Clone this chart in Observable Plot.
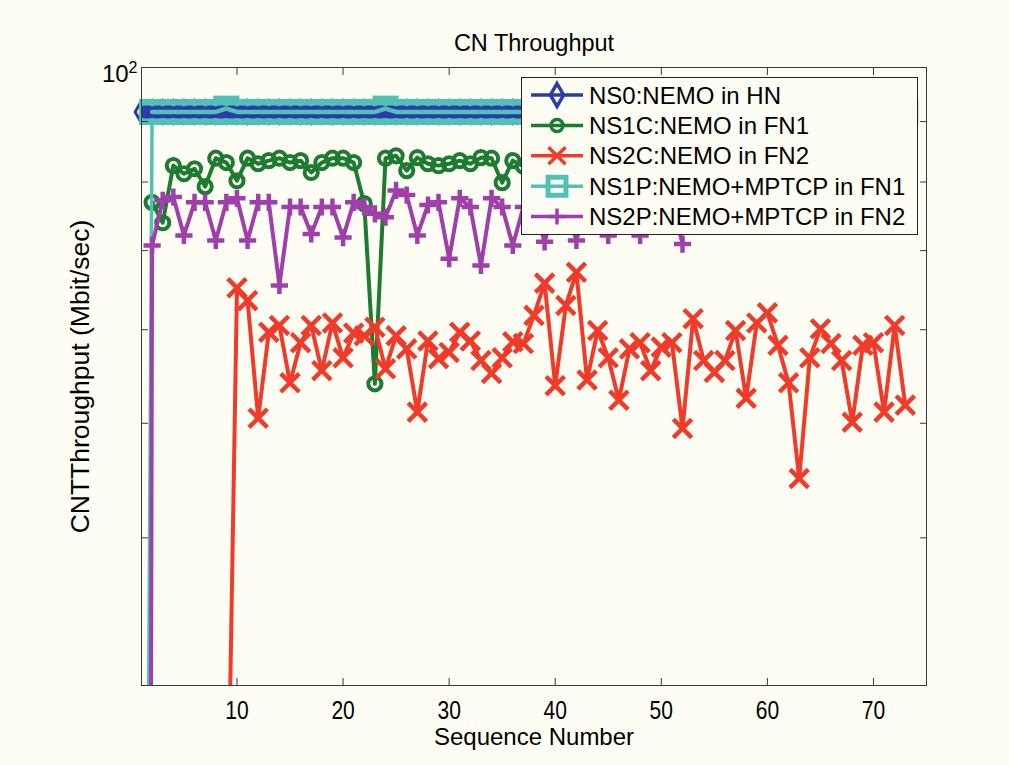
<!DOCTYPE html>
<html><head><meta charset="utf-8">
<script src="https://cdn.jsdelivr.net/npm/d3@7"></script>
<script src="https://cdn.jsdelivr.net/npm/@observablehq/plot@0.6"></script>
<style>
html,body{margin:0;padding:0;background:#FEFDF3;}
#wrap{position:relative;width:1009px;height:765px;overflow:hidden;background:#FEFDF3;}
#legend{position:absolute;left:521px;top:77px;width:397px;height:158px;box-sizing:border-box;border:1px solid #222;background:#FEFDF3;}
#legend svg{display:block}
</style></head><body><div id="wrap"></div>
<script>
// ---- data ----
const seq = [1,2,3,4,5,6,7,8,9,10,11,12,13,14,15,16,17,18,19,20,21,22,23,24,25,26,27,28,29,30,31,32,33,34,35,36,37,38,39,40,41,42,43,44,45,46,47,48,49,50,51,52,53,54,55,56,57,58,59,60,61,62,63,64,65,66,67,68,69,70,71,72,73];
const xTicks = [10,20,30,40,50,60,70];
const yTicks = [40,50,60,70,80,90,100];
const seriesNames = ["NS0:NEMO in HN","NS1C:NEMO in FN1","NS2C:NEMO in FN2","NS1P:NEMO+MPTCP in FN1","NS2P:NEMO+MPTCP in FN2"];
const ns0 = [91.7,91.7,91.7,91.7,91.7,91.7,91.7,91.7,91.7,91.7,91.7,91.7,91.7,91.7,91.7,91.7,91.7,91.7,91.7,91.7,91.7,91.7,91.7,91.7,91.7,91.7,91.7,91.7,91.7,91.7,91.7,91.7,91.7,91.7,91.7,91.7,91.7,91.7,91.7,91.7,91.7,91.7,91.7,91.7,91.7,91.7,91.7,91.7,91.7,91.7,91.7,91.7,91.7,91.7,91.7,91.7,91.7,91.7,91.7,91.7,91.7,91.7,91.7,91.7,91.7,91.7,91.7,91.7,91.7,91.7,91.7,91.7,91.7];
const ns1c = [null,76.9,73.9,82.6,81.3,82.1,79.3,83.8,83.1,80.2,83.8,82.9,83.4,83.8,83.1,83.4,81.5,83.1,83.8,83.8,83.1,76.7,54.0,83.8,84.2,81.8,83.9,82.9,82.6,82.9,83.4,82.9,83.9,83.8,79.9,83.4,82.5,83.4,82.9,83.8,80.5,83.4,83.1,82.6,83.8,83.4,79.9,83.1,83.8,82.9,83.4,81.8,83.8,83.1,82.6,83.4,83.8,80.2,83.1,83.4,82.9,83.8,83.1,81.5,83.4,83.8,82.9,83.1,79.9,83.4,83.8,82.6,83.1];
const ns2c = [null,null,null,null,null,null,null,null,19,65.1,63.5,50.5,59.7,60.5,54.1,58.5,60.5,55.4,60.8,56.8,59.6,59.3,60.3,55.6,59.3,57.8,51.1,58.7,56.7,57.4,59.7,58.7,56.5,55.1,56.8,58.6,58.4,61.7,65.7,53.8,62.9,67.1,54.4,59.9,56.8,52.3,57.8,58.5,55.4,58.0,58.5,49.5,61.3,56.5,55.2,56.5,59.9,52.5,60.8,62.0,58.2,54.1,44.9,56.8,60.1,58.4,56.5,50.1,58.2,58.5,51.1,60.5,51.8];
const ns1p = [2.8,91.7,91.7,91.7,91.7,91.7,91.7,91.7,92.3,91.7,91.7,91.7,91.7,91.7,91.7,91.7,91.7,91.7,91.7,91.7,91.7,91.7,91.7,92.3,91.7,91.7,91.7,91.7,91.7,91.7,91.7,91.7,91.7,91.7,91.7,91.7,91.7,91.7,91.7,91.7,91.7,91.7,91.7,91.7,91.7,91.7,91.7,91.7,91.7,91.7,91.7,91.7,91.7,91.7,91.7,91.7,91.7,91.7,91.7,91.7,91.7,91.7,91.7,91.7,91.7,91.7,91.7,91.7,91.7,91.7,91.7,91.7,91.7];
const ns2p = [0.01,70.7,77.2,77.7,72.1,76.9,76.9,71.4,76.9,77.5,71.4,76.9,76.9,65.4,76.2,76.2,72.3,76.2,76.2,71.8,76.9,76.2,75.2,74.7,78.7,78.0,72.1,76.5,76.9,68.9,77.5,76.2,68.0,77.5,76.2,70.7,76.2,76.5,71.2,76.9,76.5,71.4,76.9,76.2,72.1,76.9,76.5,72.1,76.9,76.2,77.2,70.9];

const C = {blue:"#2B3BA8", green:"#1E7B32", red:"#F03B2B", cyan:"#52C0B7", purple:"#9F3FA9"};
const FONT = "'Liberation Sans', Arial, Helvetica, sans-serif";

function pts(vals){ return seq.map((x,i)=>({x, y: vals[i]})).filter(d => d.y != null && d.y !== undefined); }
const inDom = d => d.y >= 30 && d.y <= 100;

const P0 = pts(ns0), P1 = pts(ns1c), P2 = pts(ns2c), P3 = pts(ns1p), P4 = pts(ns2p);

const chart = Plot.plot({
  width: 1009, height: 765,
  marginLeft: 141, marginRight: 83, marginTop: 67, marginBottom: 80,
  style: {background: "transparent", fontFamily: FONT, color: "#000"},
  x: {domain: [1, 75], label: null},
  y: {type: "log", domain: [30, 100], label: null},
  marks: [
    // NS0
    Plot.line(P0, {x: "x", y: "y", stroke: C.blue, strokeWidth: 3.5, clip: true}),
    Plot.dot(P0.filter(inDom), {x: "x", y: "y", symbol: "diamond", r: 6.7, stroke: C.blue, strokeWidth: 3, fill: "none"}),
    // NS1C
    Plot.line(P1, {x: "x", y: "y", stroke: C.green, strokeWidth: 4, clip: true}),
    Plot.dot(P1.filter(inDom), {x: "x", y: "y", symbol: "circle", r: 6.6, stroke: C.green, strokeWidth: 4, fill: "none"}),
    // NS2C
    Plot.line(P2, {x: "x", y: "y", stroke: C.red, strokeWidth: 4, clip: true}),
    Plot.dot(P2.filter(inDom), {x: "x", y: "y", symbol: "times", r: 8.4, stroke: C.red, strokeWidth: 4.5, fill: "none"}),
    // NS1P
    Plot.line(P3, {x: "x", y: "y", stroke: C.cyan, strokeWidth: 3.5, clip: true}),
    Plot.dot(P3.filter(inDom), {x: "x", y: "y", symbol: "square", r: 14.7, fill: C.cyan, stroke: "none"}),
    Plot.line(P0, {x: "x", y: "y", stroke: C.blue, strokeWidth: 13, strokeDasharray: "3.6,7.01", strokeDashoffset: -3.5, clip: true}),
    Plot.line(P3.filter(inDom), {x: "x", y: "y", stroke: C.cyan, strokeWidth: 4.5, clip: true}),
    // NS2P
    Plot.line(P4, {x: "x", y: "y", stroke: C.purple, strokeWidth: 4, clip: true}),
    Plot.dot(P4.filter(inDom), {x: "x", y: "y", symbol: "plus", r: 5.6, stroke: C.purple, strokeWidth: 4.5, fill: "none"}),
    // axes
    Plot.axisX({anchor: "bottom", ticks: xTicks, tickSize: -7, tickPadding: 22, fontSize: 21, label: null, stroke: "#3a3a3a"}),
    Plot.axisX({anchor: "top", ticks: xTicks, tickSize: -7, tickFormat: () => "", label: null, stroke: "#3a3a3a"}),
    Plot.axisY({anchor: "left", ticks: yTicks, tickSize: -7, tickPadding: 11, fontSize: 24, label: null, stroke: "#3a3a3a",
      tickFormat: d => d === 100 ? "10²" : ""}),
    Plot.axisY({anchor: "right", ticks: yTicks, tickSize: -7, tickFormat: () => "", label: null, stroke: "#3a3a3a"}),
    Plot.frame({stroke: "#3a3a3a", strokeWidth: 1}),
    // titles
    Plot.text(["CN Throughput"], {frameAnchor: "top", dy: -24, lineAnchor: "middle", textAnchor: "middle", fontSize: 23.5, fill: "#000"}),
    Plot.text(["Sequence Number"], {frameAnchor: "bottom", dy: 52, lineAnchor: "middle", textAnchor: "middle", fontSize: 24, fill: "#000"}),
    Plot.text(["CNTThroughput (Mbit/sec)"], {frameAnchor: "left", dx: -61, rotate: -90, lineAnchor: "middle", textAnchor: "middle", fontSize: 26.5, fill: "#000"})
  ]
});

const wrap = document.getElementById("wrap");
wrap.appendChild(chart);

// stretch x tick labels vertically like the reference's glyphs
d3.select(chart).selectAll('g[aria-label="x-axis tick label"] text').each(function() {
  if (!this.textContent) return;
  const t = this.getAttribute("transform") || "";
  this.setAttribute("transform", t + " scale(1,1.25)");
});
// 10^2 with a raised superscript
d3.select(chart).selectAll('g[aria-label="y-axis tick label"] text').each(function() {
  if (this.textContent === "10²") {
    const el = d3.select(this);
    el.text("");
    el.append("tspan").text("10");
    el.append("tspan").attr("font-size", 16).attr("dy", "-0.6em").text("2");
    el.attr("dy", "0.3em");
  }
});

// ---- legend (inside the axes, upper right) ----
const legColors = [C.blue, C.green, C.red, C.cyan, C.purple];
const legSymbols = [d3.symbolDiamond, d3.symbolCircle, d3.symbolTimes, d3.symbolSquare, d3.symbolPlus];
const legSizes = [150, 113, 190, 320, 85];
const legend = document.createElement("div");
legend.id = "legend";
wrap.appendChild(legend);
const lsvg = d3.select(legend).append("svg").attr("width", 395).attr("height", 156);
seriesNames.forEach((name, i) => {
  const cy = 17 + i * 30.4;
  const g = lsvg.append("g");
  g.append("line").attr("x1", 9).attr("x2", 61).attr("y1", cy).attr("y2", cy)
    .attr("stroke", legColors[i]).attr("stroke-width", 3.5);
  g.append("path").attr("d", d3.symbol(legSymbols[i], legSizes[i])())
    .attr("transform", `translate(35,${cy})`)
    .attr("fill", "none").attr("stroke", legColors[i]).attr("stroke-width", i === 3 ? 5 : 3.5);
  g.append("text").attr("x", 67).attr("y", cy).attr("dy", "0.36em")
    .attr("font-family", FONT).attr("font-size", 24).attr("fill", "#000").text(name);
});
</script>
</body></html>
